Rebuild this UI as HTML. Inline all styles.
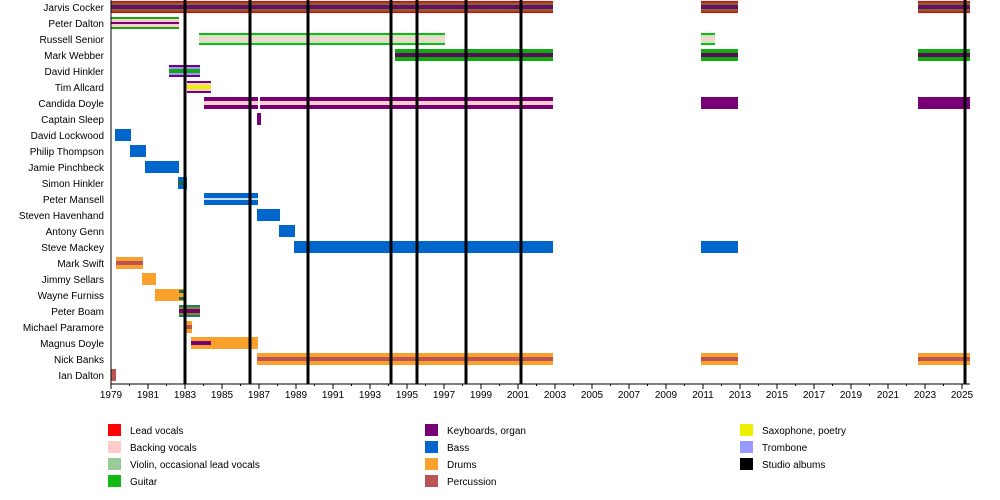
<!DOCTYPE html><html><head><style>body{margin:0;background:#fff}svg{display:block;font-family:"Liberation Sans",sans-serif;font-size:10px}</style></head><body>
<svg width="1000" height="500" xmlns="http://www.w3.org/2000/svg">
<g text-anchor="end" fill="#000">
<text x="104" y="11">Jarvis Cocker</text><text x="104" y="27">Peter Dalton</text><text x="104" y="43">Russell Senior</text><text x="104" y="59">Mark Webber</text><text x="104" y="75">David Hinkler</text><text x="104" y="91">Tim Allcard</text><text x="104" y="107">Candida Doyle</text><text x="104" y="123">Captain Sleep</text><text x="104" y="139">David Lockwood</text><text x="104" y="155">Philip Thompson</text><text x="104" y="171">Jamie Pinchbeck</text><text x="104" y="187">Simon Hinkler</text><text x="104" y="203">Peter Mansell</text><text x="104" y="219">Steven Havenhand</text><text x="104" y="235">Antony Genn</text><text x="104" y="251">Steve Mackey</text><text x="104" y="267">Mark Swift</text><text x="104" y="283">Jimmy Sellars</text><text x="104" y="299">Wayne Furniss</text><text x="104" y="315">Peter Boam</text><text x="104" y="331">Michael Paramore</text><text x="104" y="347">Magnus Doyle</text><text x="104" y="363">Nick Banks</text><text x="104" y="379">Ian Dalton</text>
</g>
<!-- Jarvis -->
<g>
<rect x="111" y="1" width="442" height="12" fill="#e00"/><rect x="111" y="2.5" width="442" height="9" fill="#7a6a30"/><rect x="111" y="5" width="442" height="4" fill="#6a0a6a"/>
<rect x="701" y="1" width="37" height="12" fill="#e00"/><rect x="701" y="2.5" width="37" height="9" fill="#7a6a30"/><rect x="701" y="5" width="37" height="4" fill="#6a0a6a"/>
<rect x="918" y="1" width="52" height="12" fill="#e00"/><rect x="918" y="2.5" width="52" height="9" fill="#7a6a30"/><rect x="918" y="5" width="52" height="4" fill="#6a0a6a"/>
</g>
<rect x="111" y="17" width="68" height="12" fill="#1a1"/><rect x="111" y="19" width="68" height="8" fill="#fcc"/><rect x="111" y="22" width="68" height="2" fill="#707"/>
<rect x="199" y="33" width="246" height="12" fill="#1b1"/><rect x="199" y="35" width="246" height="8" fill="#c8e8c0"/><rect x="199" y="37" width="246" height="4" fill="#f5d5d0"/>
<rect x="701" y="33" width="14" height="12" fill="#1b1"/><rect x="701" y="35" width="14" height="8" fill="#c8e8c0"/><rect x="701" y="37" width="14" height="4" fill="#f5d5d0"/>
<g fill="#1a1"><rect x="395" y="49" width="158" height="12"/><rect x="701" y="49" width="37" height="12"/><rect x="918" y="49" width="52" height="12"/></g>
<g fill="#5a0a5a"><rect x="395" y="53" width="158" height="4"/><rect x="701" y="53" width="37" height="4"/><rect x="918" y="53" width="52" height="4"/></g>
<rect x="169" y="65" width="31" height="12" fill="#707"/><rect x="169" y="67" width="31" height="8" fill="#99f"/><rect x="169" y="69" width="31" height="4" fill="#1a1"/>
<rect x="187" y="81" width="24" height="12" fill="#707"/><rect x="187" y="83" width="24" height="8" fill="#fcc"/><rect x="187" y="85" width="24" height="4" fill="#ee0"/>
<g fill="#707"><rect x="204" y="97" width="54" height="12"/><rect x="260" y="97" width="293" height="12"/><rect x="701" y="97" width="37" height="12"/><rect x="918" y="97" width="52" height="12"/><rect x="257" y="113" width="4" height="12"/></g>
<g fill="#fcc"><rect x="204" y="101" width="54" height="4"/><rect x="260" y="101" width="293" height="4"/></g>
<g fill="#06c">
<rect x="115" y="129" width="16" height="12"/><rect x="130" y="145" width="16" height="12"/><rect x="145" y="161" width="34" height="12"/><rect x="178" y="177" width="9" height="12"/><rect x="204" y="193" width="54" height="12"/><rect x="257" y="209" width="23" height="12"/><rect x="279" y="225" width="16" height="12"/><rect x="294" y="241" width="259" height="12"/><rect x="701" y="241" width="37" height="12"/>
</g>
<rect x="178" y="181" width="9" height="4" fill="#1a6a4a"/>
<rect x="204" y="198" width="54" height="2" fill="#cde"/>
<g fill="#f9a12c">
<rect x="116" y="257" width="27" height="12"/><rect x="142" y="273" width="14" height="12"/><rect x="155" y="289" width="30" height="12"/><rect x="179" y="305" width="21" height="12"/><rect x="186" y="321" width="6" height="12"/><rect x="191" y="337" width="67" height="12"/><rect x="257" y="353" width="296" height="12"/><rect x="701" y="353" width="37" height="12"/><rect x="918" y="353" width="52" height="12"/>
</g>
<g fill="#b55">
<rect x="116" y="261" width="27" height="4"/><rect x="186" y="325" width="6" height="4"/><rect x="257" y="357" width="296" height="4"/><rect x="701" y="357" width="37" height="4"/><rect x="918" y="357" width="52" height="4"/><rect x="111" y="369" width="5" height="12"/>
</g>
<rect x="179" y="290" width="6" height="3" fill="#1a6a4a"/><rect x="179" y="297" width="6" height="3" fill="#1a6a4a"/>
<rect x="179" y="305" width="21" height="12" fill="#1a7a7a"/><rect x="179" y="307" width="21" height="8" fill="#8a8a20"/><rect x="179" y="309" width="21" height="4" fill="#707"/>
<rect x="191" y="341" width="20" height="4" fill="#707"/><rect x="249" y="341" width="2" height="4" fill="#6a2"/>
<g stroke="#000" stroke-width="3">
<line x1="185" y1="0" x2="185" y2="384"/><line x1="250" y1="0" x2="250" y2="384"/><line x1="308" y1="0" x2="308" y2="384"/><line x1="391" y1="0" x2="391" y2="384"/><line x1="417" y1="0" x2="417" y2="384"/><line x1="466" y1="0" x2="466" y2="384"/><line x1="521" y1="0" x2="521" y2="384"/><line x1="965" y1="0" x2="965" y2="384"/>
</g>
<line x1="111" y1="0" x2="111" y2="384" stroke="#000"/>
<line x1="111" y1="384" x2="970" y2="384" stroke="#000"/>
<g id="ticks" stroke="#000">
<path d="M111 384v5M148 384v5M185 384v5M222 384v5M259 384v5M296 384v5M333 384v5M370 384v5M407 384v5M444 384v5M481 384v5M518 384v5M555 384v5M592 384v5M629 384v5M666 384v5M703 384v5M740 384v5M777 384v5M814 384v5M851 384v5M888 384v5M925 384v5M962 384v5"/>
<path d="M129.5 384v2M166.5 384v2M203.5 384v2M240.5 384v2M277.5 384v2M314.5 384v2M351.5 384v2M388.5 384v2M425.5 384v2M462.5 384v2M499.5 384v2M536.5 384v2M573.5 384v2M610.5 384v2M647.5 384v2M684.5 384v2M721.5 384v2M758.5 384v2M795.5 384v2M832.5 384v2M869.5 384v2M906.5 384v2M943.5 384v2"/>
</g>
<g text-anchor="middle">
<text x="111" y="398">1979</text><text x="148" y="398">1981</text><text x="185" y="398">1983</text><text x="222" y="398">1985</text><text x="259" y="398">1987</text><text x="296" y="398">1989</text><text x="333" y="398">1991</text><text x="370" y="398">1993</text><text x="407" y="398">1995</text><text x="444" y="398">1997</text><text x="481" y="398">1999</text><text x="518" y="398">2001</text><text x="555" y="398">2003</text><text x="592" y="398">2005</text><text x="629" y="398">2007</text><text x="666" y="398">2009</text><text x="703" y="398">2011</text><text x="740" y="398">2013</text><text x="777" y="398">2015</text><text x="814" y="398">2017</text><text x="851" y="398">2019</text><text x="888" y="398">2021</text><text x="925" y="398">2023</text><text x="962" y="398">2025</text>
</g>
<g>
<rect x="108" y="424" width="13" height="12" fill="#f00"/><text x="130" y="434">Lead vocals</text>
<rect x="108" y="441" width="13" height="12" fill="#fcc"/><text x="130" y="451">Backing vocals</text>
<rect x="108" y="458" width="13" height="12" fill="#9c9"/><text x="130" y="468">Violin, occasional lead vocals</text>
<rect x="108" y="475" width="13" height="12" fill="#1b1"/><text x="130" y="485">Guitar</text>
<rect x="425" y="424" width="13" height="12" fill="#707"/><text x="447" y="434">Keyboards, organ</text>
<rect x="425" y="441" width="13" height="12" fill="#06c"/><text x="447" y="451">Bass</text>
<rect x="425" y="458" width="13" height="12" fill="#f9a12c"/><text x="447" y="468">Drums</text>
<rect x="425" y="475" width="13" height="12" fill="#b55"/><text x="447" y="485">Percussion</text>
<rect x="740" y="424" width="13" height="12" fill="#ee0"/><text x="762" y="434">Saxophone, poetry</text>
<rect x="740" y="441" width="13" height="12" fill="#99f"/><text x="762" y="451">Trombone</text>
<rect x="740" y="458" width="13" height="12" fill="#000"/><text x="762" y="468">Studio albums</text>
</g>
</svg></body></html>
